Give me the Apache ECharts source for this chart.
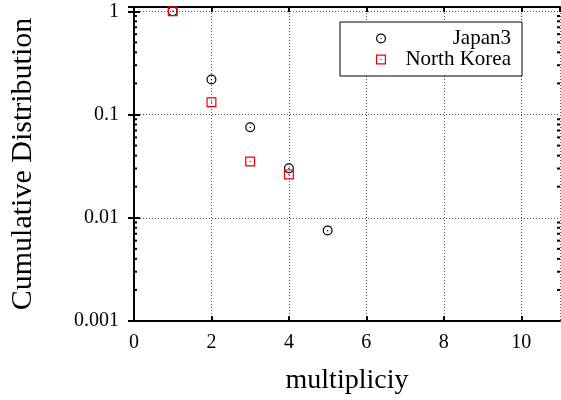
<!DOCTYPE html>
<html>
<head>
<meta charset="utf-8">
<script src="https://cdn.jsdelivr.net/npm/echarts@6/dist/echarts.min.js"></script>
<style>
  html, body { margin: 0; padding: 0; background: #fff; }
  #chart { width: 561px; height: 400px; }
</style>
</head>
<body>
<div id="chart"></div>
<script>
// multiplicity values on the x axis
const multiplicity = [1, 2, 3, 4, 5];
const multiplicityNK = [1, 2, 3, 4];

// cumulative distribution per dataset
const japan3 = [1, 0.218, 0.0752, 0.0301, 0.00752];
const northKorea = [1, 0.1316, 0.0351, 0.0263];

const seriesNames = ['Japan3', 'North Korea'];
const yDecades = [0.001, 0.01, 0.1, 1];

// minor log ticks: 2..9 within each decade
const minorTicks = [];
for (let d = 0; d < yDecades.length - 1; d++) {
  for (let k = 2; k <= 9; k++) minorTicks.push(yDecades[d] * k);
}

// open circle with a centre dot, open square with a centre dot
const ringDot = 'path://M0,5 A5,5 0 1,1 10,5 A5,5 0 1,1 0,5 Z M1.2,5 A3.8,3.8 0 1,0 8.8,5 A3.8,3.8 0 1,0 1.2,5 Z M4.4,4.4 L5.6,4.4 L5.6,5.6 L4.4,5.6 Z';
const boxDot = 'path://M0,0 L10,0 L10,10 L0,10 Z M1.2,1.2 L1.2,8.8 L8.8,8.8 L8.8,1.2 Z M4.4,4.4 L5.6,4.4 L5.6,5.6 L4.4,5.6 Z';

const serif = 'Liberation Serif';
const chart = echarts.init(document.getElementById('chart'));

const axisLine = { show: true, lineStyle: { color: '#000', width: 2 } };
const gridLine = { show: true, lineStyle: { color: '#555', width: 1, type: [1, 2] } };

chart.setOption({
  backgroundColor: '#fff',
  animation: false,
  textStyle: { fontFamily: serif, color: '#000' },
  grid: { left: 133, right: 1, top: 7, bottom: 78 },
  legend: {
    data: seriesNames,
    orient: 'vertical',
    left: 340,
    top: 22,
    padding: [6, 11, 6, 36],
    itemGap: 0,
    itemWidth: 10,
    itemHeight: 10,
    borderColor: '#000',
    borderWidth: 1,
    backgroundColor: '#fff',
    formatter: function (name) { return '{t|' + name + '}'; },
    textStyle: {
      rich: {
        t: { width: 120, align: 'right', fontFamily: serif, fontSize: 21, lineHeight: 21, color: '#000' }
      }
    }
  },
  xAxis: [
    {
      type: 'value',
      min: 0, max: 11, interval: 2,
      name: 'multipliciy',
      nameLocation: 'middle',
      nameGap: 46,
      nameTextStyle: { fontFamily: serif, fontSize: 28, color: '#000' },
      axisLine: axisLine,
      axisTick: { show: true, inside: true, length: 5, lineStyle: { color: '#000', width: 2 } },
      axisLabel: { fontFamily: serif, fontSize: 20, color: '#000', margin: 12, showMaxLabel: false },
      splitLine: gridLine
    },
    {
      type: 'value',
      position: 'top',
      min: 0, max: 11, interval: 2,
      axisLine: axisLine,
      axisTick: { show: true, inside: true, length: 5, lineStyle: { color: '#000', width: 2 } },
      axisLabel: { show: false },
      splitLine: { show: false }
    }
  ],
  yAxis: [
    {
      type: 'log',
      logBase: 10,
      min: 0.001, max: 1.1,
      name: 'Cumulative Distribution',
      nameLocation: 'middle',
      nameGap: 96,
      nameTextStyle: { fontFamily: serif, fontSize: 30, color: '#000' },
      axisLine: axisLine,
      axisTick: { show: true, inside: true, length: 6, lineStyle: { color: '#000', width: 2 } },
      axisLabel: {
        fontFamily: serif, fontSize: 20, color: '#000', margin: 15,
        showMaxLabel: false,
        formatter: function (v) {
          const m = { 0.001: '0.001', 0.01: '0.01', 0.1: '0.1', 1: '1' };
          const key = Number(v.toPrecision(6));
          return m[key] !== undefined ? m[key] : '';
        }
      },
      splitLine: gridLine
    },
    {
      type: 'log',
      logBase: 10,
      position: 'right',
      min: 0.001, max: 1.1,
      axisLine: axisLine,
      axisTick: { show: true, inside: true, length: 6, lineStyle: { color: '#000', width: 2 } },
      axisLabel: { show: false },
      splitLine: { show: false }
    }
  ],
  series: [
    {
      name: 'minor',
      type: 'custom',
      silent: true,
      xAxisIndex: 0,
      yAxisIndex: 0,
      data: minorTicks.map(function (v) { return [0, v]; }),
      renderItem: function (params, api) {
        const v = api.value(1);
        const l = api.coord([0, v]);
        const r = api.coord([11, v]);
        const style = { stroke: '#000', lineWidth: 2 };
        return {
          type: 'group',
          children: [
            { type: 'line', shape: { x1: l[0], y1: l[1], x2: l[0] + 3, y2: l[1] }, style: style },
            { type: 'line', shape: { x1: r[0], y1: r[1], x2: r[0] - 3, y2: r[1] }, style: style }
          ]
        };
      }
    },
    {
      name: 'Japan3',
      type: 'scatter',
      symbol: ringDot,
      symbolSize: 10,
      itemStyle: { color: '#000', opacity: 1 },
      data: multiplicity.map(function (x, i) { return [x, japan3[i]]; })
    },
    {
      name: 'North Korea',
      type: 'scatter',
      symbol: boxDot,
      symbolSize: 10,
      itemStyle: { color: '#ee0000', opacity: 1 },
      data: multiplicityNK.map(function (x, i) { return [x, northKorea[i]]; })
    }
  ]
});
</script>
</body>
</html>
